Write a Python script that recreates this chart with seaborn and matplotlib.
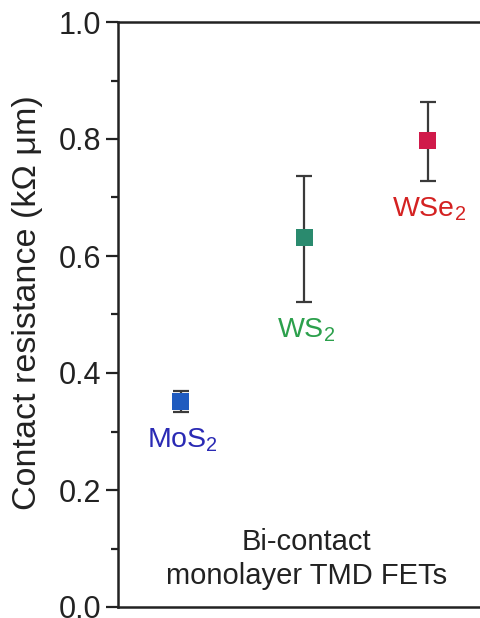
import matplotlib
matplotlib.use("Agg")
import matplotlib.pyplot as plt
import seaborn as sns
import pandas as pd
from matplotlib.ticker import MultipleLocator

# Contact resistance of bi-contact monolayer TMD FETs
materials = ["MoS$_2$", "WS$_2$", "WSe$_2$"]
resistance = [0.352, 0.631, 0.797]
err_low = [0.019, 0.110, 0.069]
err_high = [0.017, 0.106, 0.066]
marker_colors = ["#1f5bbf", "#2a8a6e", "#d01a4a"]
label_colors = ["#2a2ab4", "#2ca04c", "#d42222"]
y_ticks = [0.0, 0.2, 0.4, 0.6, 0.8, 1.0]

sns.set_theme(style="ticks")
plt.rcParams["font.family"] = ["Liberation Sans", "DejaVu Sans"]
plt.rcParams["mathtext.fontset"] = "custom"
plt.rcParams["mathtext.rm"] = "Liberation Sans"
plt.rcParams["mathtext.it"] = "Liberation Sans"

fig = plt.figure(figsize=(4.81, 6.18), dpi=100)
ax = fig.add_axes([118 / 481, 1 - 607 / 618, 1 - 118 / 481 + 0.01, 585 / 618])

pos = list(range(len(materials)))
df = pd.DataFrame({"pos": pos, "R": resistance, "material": materials})

ax.errorbar(pos, resistance, yerr=[err_low, err_high], fmt="none",
            ecolor="#3a3a3a", elinewidth=1.6, capsize=6, capthick=1.6, zorder=2)
sns.scatterplot(data=df, x="pos", y="R", hue="material", palette=marker_colors,
                marker="s", s=150, edgecolor="none", legend=False, ax=ax, zorder=3)

for p, r, lo, name, c in zip(pos, resistance, err_low, materials, label_colors):
    ax.annotate(name, xy=(p, r - lo), xytext=(1, -10), textcoords="offset points",
                ha="center", va="top", fontsize=20.5, color=c)

ax.text(1.02, 0.082, "Bi-contact\nmonolayer TMD FETs", ha="center", va="center",
        fontsize=21, color="#222222", linespacing=1.3,
        transform=ax.get_xaxis_transform())

ax.set_xlim(-0.51, 2.47)
ax.set_ylim(0, 1.0)
ax.set_yticks(y_ticks)
ax.yaxis.set_minor_locator(MultipleLocator(0.1))
ax.set_xticks([])
ax.set_xlabel("")
ax.set_ylabel("Contact resistance (k\u03a9 \u03bcm)", fontsize=24.5, color="#222222")
ax.yaxis.set_label_coords(-0.205, 0.52)
ax.tick_params(axis="y", which="major", length=9, width=1.6, labelsize=22,
               colors="#222222", pad=3)
ax.tick_params(axis="y", which="minor", length=5, width=1.6, colors="#222222")
for side in ["left", "bottom", "top"]:
    ax.spines[side].set_linewidth(1.8)
    ax.spines[side].set_color("#222222")
ax.spines["right"].set_visible(False)
ax.spines["top"].set_visible(True)

fig.savefig("out.png", dpi=100)
